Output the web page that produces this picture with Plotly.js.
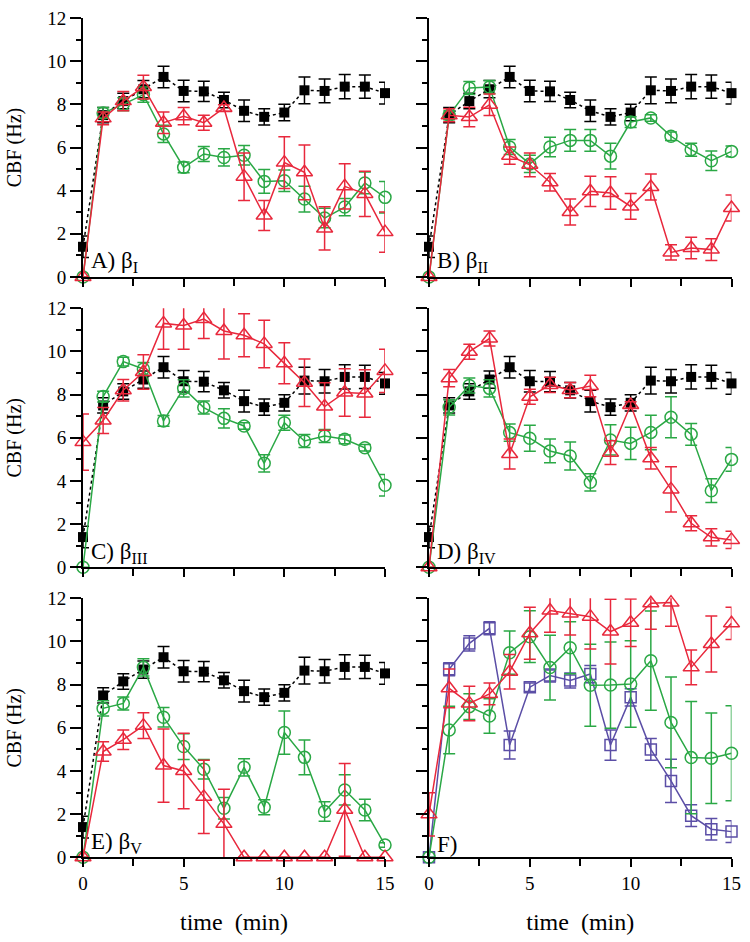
<!DOCTYPE html>
<html>
<head>
<meta charset="utf-8">
<script src="https://cdn.plot.ly/plotly-3.0.1.min.js"></script>
<style>html,body{margin:0;padding:0;background:#fff;}#chart{width:750px;height:942px;}</style>
</head>
<body>
<div id="chart"></div>
<script>
// ---------- data ----------
const time = [0,1,2,3,4,5,6,7,8,9,10,11,12,13,14,15];

// control (filled squares, same in panels A-E)
const ctrlMean = [1.4,7.5,8.15,8.7,9.27,8.62,8.6,8.2,7.7,7.42,7.62,8.65,8.62,8.82,8.82,8.52];
const ctrlErr  = [0.5,0.35,0.36,0.4,0.5,0.5,0.47,0.36,0.5,0.38,0.38,0.62,0.55,0.56,0.54,0.5];

// A) beta I
const aGreen    = [0,7.6,8.0,8.45,6.63,5.08,5.7,5.54,5.64,4.43,4.46,3.61,2.73,3.24,4.36,3.69];
const aGreenErr = [0,0.25,0.3,0.35,0.4,0.25,0.35,0.4,0.45,0.55,0.5,0.6,0.45,0.4,0.5,0.73];
const aRed      = [0,7.35,8.15,8.8,7.15,7.45,7.15,7.83,4.65,2.85,5.3,4.85,2.25,4.2,3.85,2.08];
const aRedErr   = [0,0.3,0.45,0.55,0.5,0.4,0.35,0.15,1.1,0.7,1.2,1.27,1.0,1.05,1.05,0.93];

// B) beta II
const bGreen    = [0,7.49,8.76,8.8,6.02,5.24,6.02,6.33,6.33,5.6,7.18,7.37,6.52,5.9,5.39,5.82];
const bGreenErr = [0,0.2,0.3,0.3,0.35,0.4,0.45,0.5,0.5,0.6,0.25,0.15,0.2,0.3,0.45,0.25];
const bRed      = [0,7.49,7.41,7.98,5.62,5.2,4.39,3.01,3.97,3.89,3.27,4.17,1.14,1.34,1.27,3.2];
const bRedErr   = [0,0.3,0.45,0.5,0.4,0.55,0.4,0.6,0.7,0.75,0.6,0.6,0.35,0.5,0.5,0.6];

// C) beta III
const cGreen    = [0,7.91,9.53,9.19,6.78,8.29,7.4,6.9,6.55,4.82,6.7,5.85,6.08,5.93,5.54,3.8];
const cGreenErr = [0,0.25,0.2,0.3,0.25,0.4,0.3,0.45,0.15,0.4,0.35,0.3,0.3,0.2,0.15,0.5];
const cRed      = [5.8,6.8,8.2,9.05,11.3,11.2,11.5,10.95,10.75,10.35,9.45,8.55,7.45,8.1,8.05,9.1];
const cRedErr   = [1.3,0.6,0.5,0.8,1.2,1.1,0.9,1.3,1.0,1.1,0.95,1.1,1.1,1.1,1.1,1.0];

// D) beta IV
const dGreen    = [0,7.41,8.42,8.29,6.24,5.98,5.39,5.16,3.94,5.9,5.74,6.25,6.95,6.16,3.55,5.0];
const dGreenErr = [0,0.35,0.35,0.4,0.4,0.6,0.55,0.65,0.4,0.7,0.75,0.8,0.95,0.5,0.55,0.55];
const dRed      = [0,8.76,9.99,10.6,5.25,7.9,8.45,8.21,8.4,5.31,7.52,5.05,3.61,2.04,1.39,1.27];
const dRedErr   = [0,0.4,0.35,0.35,0.7,0.35,0.35,0.35,0.5,0.55,0.15,0.5,1.05,0.35,0.4,0.4];

// E) beta V
const eGreen    = [0,6.9,7.13,8.8,6.49,5.13,4.08,2.27,4.17,2.32,5.78,4.63,2.12,3.12,2.19,0.57];
const eGreenErr = [0,0.35,0.3,0.4,0.45,0.6,0.45,0.5,0.4,0.35,1.0,0.8,0.45,0.7,0.5,0.1];
const eRed      = [0,4.9,5.45,6.1,4.25,4.0,2.8,1.55,0,0,0,0,0,2.2,0,0];
const eRedErr   = [0,0.45,0.45,0.6,1.7,1.75,1.7,1.6,0,0,0,0,0,2.15,0,0];

// F)
const fBlue     = [0,8.71,9.91,10.61,5.2,7.88,8.42,8.19,8.49,5.2,7.41,5.0,3.54,1.93,1.3,1.19];
const fBlueErr  = [0,0.3,0.35,0.3,0.65,0.2,0.3,0.35,0.4,0.7,0.4,0.5,1.0,0.5,0.5,0.5];
const fGreen    = [0,5.9,6.98,6.55,9.48,10.22,8.79,9.71,7.97,7.98,8.03,9.11,6.25,4.62,4.59,4.82];
const fGreenErr = [0,1.1,0.6,0.8,1.0,1.2,1.5,1.2,1.9,2.0,2.0,2.3,2.1,2.6,2.1,2.2];
const fRed      = [1.99,7.83,7.13,7.57,8.6,10.38,11.43,11.3,11.15,10.46,10.87,11.77,11.8,8.8,9.88,10.84];
const fRedErr   = [1.0,0.9,0.8,0.5,0.8,1.2,1.0,1.0,1.5,1.5,1.1,1.2,1.1,0.8,1.3,0.75];

const panelLabels = ['A) β<sub>I</sub>','B) β<sub>II</sub>','C) β<sub>III</sub>','D) β<sub>IV</sub>','E) β<sub>V</sub>','F)'];
const xTickVals = [0,5,10,15];
const yTickVals = [0,2,4,6,8,10,12];
const xTitle = 'time  (min)';
const yTitle = 'CBF (Hz)';

// ---------- styles ----------
const BLACK = '#000000', GREEN = '#2aa845', RED = '#e8283c', BLUE = '#5b4ea6';
const FONT = '"Liberation Serif", "Times New Roman", Times, serif';

function ctrl(ax){
  return {x: time, y: ctrlMean, xaxis: 'x'+ax, yaxis: 'y'+ax, mode:'lines+markers', cliponaxis:false,
    line:{color:BLACK, width:1.5, dash:'dot'},
    marker:{symbol:'square', size:10, color:BLACK},
    error_y:{type:'data', array:ctrlErr, visible:true, color:BLACK, thickness:1.5, width:6}};
}
function green(ax, y, e){
  return {x: time, y: y, xaxis: 'x'+ax, yaxis: 'y'+ax, mode:'lines+markers', cliponaxis:false,
    line:{color:GREEN, width:1.5},
    marker:{symbol:'circle-open', size:12, color:GREEN, line:{width:1.5}},
    error_y:{type:'data', array:e, visible:true, color:GREEN, thickness:1.5, width:6}};
}
function red(ax, y, e){
  return {x: time, y: y, xaxis: 'x'+ax, yaxis: 'y'+ax, mode:'lines+markers', cliponaxis:false,
    line:{color:RED, width:1.5},
    marker:{symbol:'triangle-up-open', size:14, color:RED, line:{width:1.5}},
    error_y:{type:'data', array:e, visible:true, color:RED, thickness:1.5, width:6}};
}
function blue(ax, y, e){
  return {x: time, y: y, xaxis: 'x'+ax, yaxis: 'y'+ax, mode:'lines+markers', cliponaxis:false,
    line:{color:BLUE, width:1.5},
    marker:{symbol:'square-open', size:11, color:BLUE, line:{width:1.5}},
    error_y:{type:'data', array:e, visible:true, color:BLUE, thickness:1.5, width:6}};
}

const data = [
  ctrl(1), green(1,aGreen,aGreenErr), red(1,aRed,aRedErr),
  ctrl(2), green(2,bGreen,bGreenErr), red(2,bRed,bRedErr),
  ctrl(3), green(3,cGreen,cGreenErr), red(3,cRed,cRedErr),
  ctrl(4), green(4,dGreen,dGreenErr), red(4,dRed,dRedErr),
  ctrl(5), green(5,eGreen,eGreenErr), red(5,eRed,eRedErr),
  blue(6,fBlue,fBlueErr), green(6,fGreen,fGreenErr), red(6,fRed,fRedErr)
].map(t => Object.assign(t, {showlegend:false, hoverinfo:'skip'}));

const W = 750, H = 942;
const xDomL = [83/W, 385/W], xDomR = [429/W, 731.5/W];
const yRows = [[18,277],[308.3,567.3],[598.3,857.3]].map(r => [1 - r[1]/H, 1 - r[0]/H]);

const layout = {
  width: W, height: H,
  margin: {l:0, r:0, t:0, b:0},
  paper_bgcolor: '#fff', plot_bgcolor: 'rgba(0,0,0,0)',
  font: {family: FONT, size: 19, color: '#000'},
  showlegend: false,
  annotations: []
};

for (let i = 1; i <= 6; i++) {
  const left = (i % 2 === 1);
  const row = Math.floor((i - 1) / 2);
  const bottom = row === 2;
  const xk = i === 1 ? 'xaxis' : 'xaxis' + i;
  const yk = i === 1 ? 'yaxis' : 'yaxis' + i;
  layout[xk] = {
    domain: left ? xDomL : xDomR, anchor: 'y' + i, range: [0, 15],
    showline: true, linewidth: 2, linecolor: '#000', showgrid: false, zeroline: false,
    ticks: 'outside', ticklen: 8, tickwidth: 2, tickcolor: '#000',
    tickvals: xTickVals, showticklabels: bottom, tickfont: {size: 19, family: FONT},
    minor: {tickvals: [2.5, 7.5, 12.5], ticks: 'outside', ticklen: 7, tickwidth: 2, tickcolor: '#000'},
    automargin: false, fixedrange: true
  };
  if (bottom) layout[xk].title = {text: xTitle, font: {size: 24, family: FONT}, standoff: 20};
  layout[yk] = {
    domain: yRows[row], anchor: 'x' + i, range: [0, 12],
    showline: true, linewidth: 2, linecolor: '#000', showgrid: false, zeroline: false,
    ticks: 'outside', ticklen: 11, tickwidth: 2, tickcolor: '#000',
    tickvals: yTickVals, showticklabels: left, tickfont: {size: 19, family: FONT},
    minor: {dtick: 1, ticks: 'outside', ticklen: 5, tickwidth: 2, tickcolor: '#000'},
    automargin: false, fixedrange: true
  };
  if (left) layout[yk].title = {text: yTitle, font: {size: 20, family: FONT}, standoff: 20};
  layout.annotations.push({
    text: panelLabels[i - 1], xref: 'x' + i + ' domain', yref: 'y' + i + ' domain',
    x: 0.02, y: -0.005, xanchor: 'left', yanchor: 'bottom', showarrow: false,
    font: {size: 23, family: FONT, color: '#000'}
  });
}

Plotly.newPlot('chart', data, layout, {staticPlot: true, displayModeBar: false});
</script>
</body>
</html>
